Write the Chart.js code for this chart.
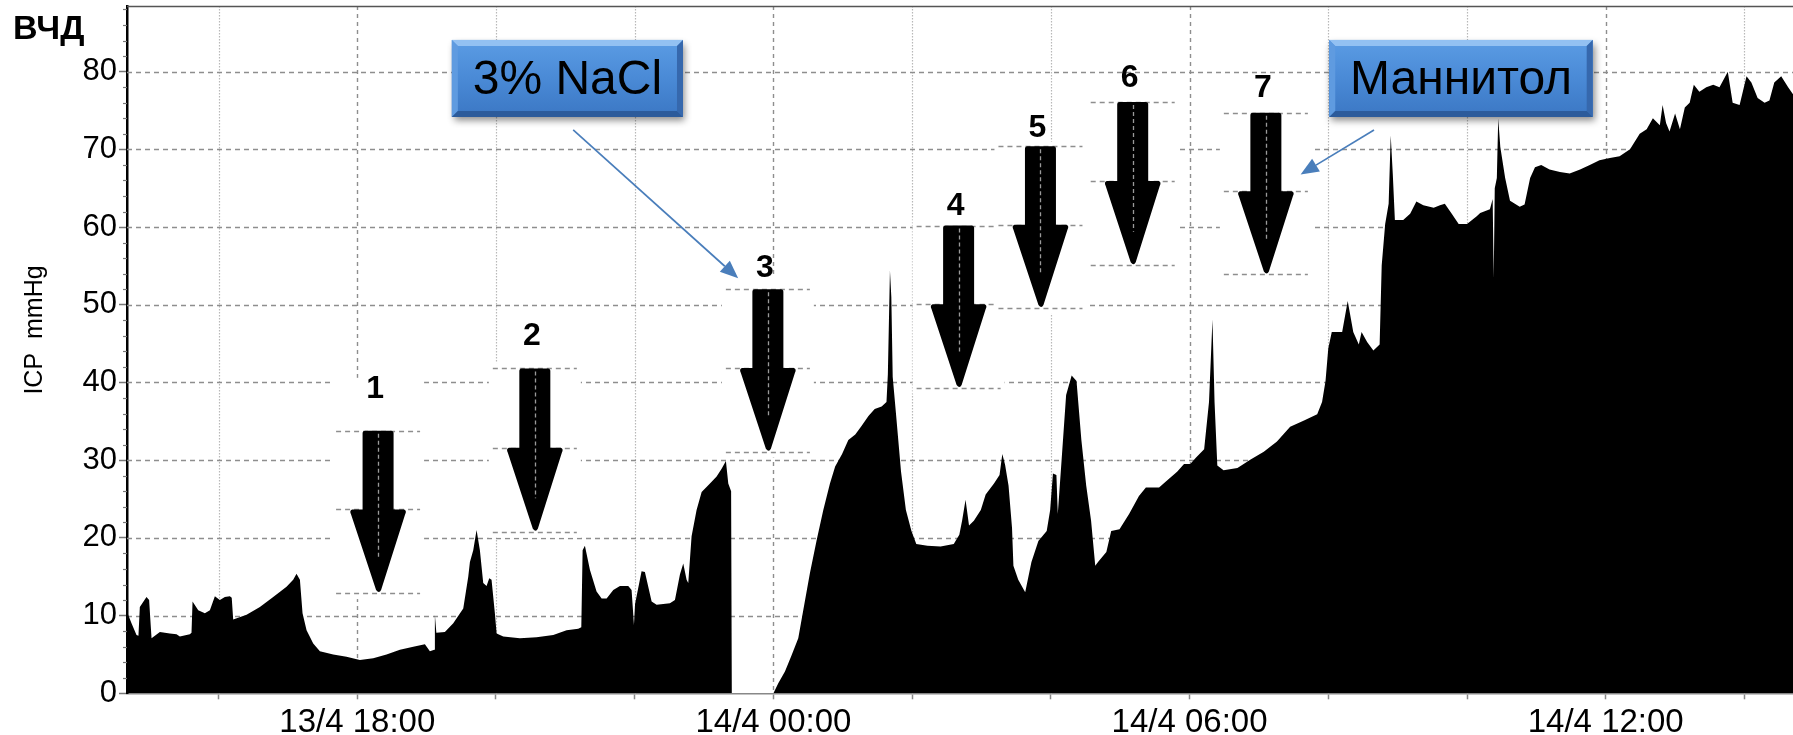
<!DOCTYPE html>
<html>
<head>
<meta charset="utf-8">
<script src="https://cdn.jsdelivr.net/npm/chart.js@4.4.1/dist/chart.umd.min.js"></script>
<style>
html,body{margin:0;padding:0;background:#fff;overflow:hidden}
canvas{display:block}
</style>
</head>
<body>
<canvas id="c" width="1793" height="735"></canvas>
<script>
// ---- data (hours since 13/4 00:00, ICP mmHg) ----
const icpHours = [
 14.68,14.745,14.817,14.845,14.865,14.961,14.999,15.02,15.034,15.154,15.298,15.394,15.442,15.586,15.61,15.625,
 15.707,15.803,15.875,15.947,16.019,16.091,16.163,16.19,16.211,16.404,16.596,16.788,16.98,17.076,17.124,17.173,
 17.211,17.269,17.365,17.461,17.653,17.845,18.038,18.23,18.422,18.615,18.807,18.975,19.047,19.11,19.119,19.14,
 19.263,19.384,19.528,19.6,19.624,19.672,19.72,19.768,19.816,19.864,19.903,19.936,19.984,20.009,20.105,20.345,
 20.585,20.826,21.018,21.186,21.23,21.249,21.282,21.354,21.45,21.523,21.595,21.691,21.787,21.907,21.955,21.975,
 21.989,22.005,22.027,22.099,22.147,22.244,22.316,22.508,22.58,22.652,22.7,22.748,22.772,22.82,22.892,22.965,
 23.085,23.181,23.253,23.315,23.349,23.39,23.4,24.0,24.07,24.166,24.262,24.358,24.43,24.527,24.623,24.719,
 24.815,24.89,24.99,25.08,25.18,25.27,25.37,25.46,25.56,25.63,25.65,25.68,25.7,25.72,25.77,25.84,
 25.91,25.99,26.06,26.22,26.41,26.6,26.68,26.72,26.77,26.82,26.89,26.99,27.06,27.18,27.26,27.3,
 27.34,27.39,27.44,27.46,27.53,27.63,27.72,27.82,27.94,27.99,28.03,28.08,28.1,28.15,28.22,28.3,
 28.37,28.44,28.51,28.58,28.64,28.68,28.8,28.87,28.99,29.13,29.27,29.37,29.56,29.65,29.82,29.92,
 30.01,30.09,30.21,30.28,30.33,30.36,30.4,30.49,30.69,30.88,31.07,31.26,31.45,31.65,31.84,31.91,
 31.96,32.0,32.05,32.12,32.2,32.28,32.36,32.44,32.48,32.56,32.65,32.74,32.77,32.82,32.87,32.9,
 32.93,32.96,33.08,33.18,33.27,33.37,33.52,33.61,33.68,33.78,33.88,34.0,34.14,34.19,34.33,34.37,
 34.385,34.4,34.43,34.45,34.48,34.55,34.62,34.76,34.83,34.91,34.98,35.07,35.19,35.34,35.48,35.63,
 35.77,35.91,36.06,36.2,36.35,36.49,36.59,36.68,36.78,36.82,36.87,36.92,37.0,37.07,37.14,37.21,
 37.27,37.35,37.45,37.55,37.64,37.76,37.83,37.93,38.03,38.1,38.19,38.29,38.36,38.43,38.53,38.63,
 38.7
];
const icpValues = [
 10.5,9.0,7.5,7.4,11.1,12.4,12.0,9.0,7.1,7.9,7.7,7.6,7.3,7.6,7.8,11.8,
 10.7,10.3,10.7,12.5,12.0,12.4,12.5,12.3,9.5,10.1,11.1,12.4,13.7,14.6,15.4,14.6,
 10.3,8.1,6.4,5.4,5.0,4.7,4.3,4.5,5.0,5.6,6.0,6.3,5.4,5.6,10.1,7.8,
 7.9,9.0,10.9,15.0,16.9,18.4,21.0,18.4,14.2,13.8,14.8,14.6,10.3,7.7,7.3,7.1,
 7.2,7.5,8.1,8.3,8.5,18.4,19.0,15.9,13.1,12.2,12.2,13.3,13.8,13.8,13.3,10.7,
 8.8,11.5,12.5,15.7,15.6,11.8,11.4,11.6,12.0,15.3,16.7,14.6,14.2,20.2,23.6,25.9,
 27.0,27.9,28.9,29.9,27.0,26.0,0,0,1.3,2.8,4.9,7.1,10.7,15.5,19.7,23.6,
 27.0,29.2,30.8,32.6,33.3,34.4,35.7,36.6,36.9,37.5,41.1,54.4,51.0,40.7,35.7,28.5,
 23.6,20.9,19.2,19.0,18.9,19.2,20.4,22.2,24.9,21.6,22.2,23.6,25.6,27.0,28.1,30.8,
 29.4,26.7,21.3,16.4,14.6,13.0,16.9,19.6,20.9,23.6,28.3,28.1,23.1,29.4,38.4,40.9,
 40.2,32.6,26.7,22.2,16.4,16.9,18.2,20.9,21.1,23.1,25.4,26.5,26.5,27.2,28.5,29.5,
 29.5,30.3,31.4,37.5,48.1,37.5,29.3,28.7,29.0,30.1,31.1,32.4,34.3,35.1,35.9,37.5,
 40.2,44.4,46.5,46.5,46.5,50.5,46.5,44.9,46.5,45.2,44.1,44.9,55.1,60.4,63.0,71.8,
 66.8,60.9,60.9,61.7,63.3,62.8,62.5,62.8,63.0,61.7,60.4,60.4,61.4,61.8,62.3,63.6,
 53.4,65.0,66.3,74.0,70.3,66.3,63.4,62.6,62.9,66.3,67.7,68.0,67.4,67.1,66.9,67.4,
 68.0,68.6,68.9,69.1,70.0,72.0,72.6,74.0,73.1,75.7,73.4,72.3,74.6,72.6,75.4,76.0,
 78.3,77.4,78.0,78.3,78.0,80.0,76.0,75.7,79.4,78.6,76.6,76.0,76.3,78.6,79.4,78.0,
 77.1
];
const xTickHours = [18, 24, 30, 36];
const xTickLabels = ['13/4 18:00', '14/4 00:00', '14/4 06:00', '14/4 12:00'];
const yTickValues = [0, 10, 20, 30, 40, 50, 60, 70, 80];

// numbered intervention arrows (anchored to data coordinates)
const arrowLabels = ['1', '2', '3', '4', '5', '6', '7'];
const arrowHours = [18.30, 20.56, 23.92, 26.67, 27.85, 29.18, 31.10];
const arrowTops = [33.8, 41.8, 52.0, 60.2, 70.4, 76.1, 74.7];
const arrowTips = [12.9, 20.8, 31.1, 39.3, 49.6, 55.1, 53.9];
const arrowLabelLevels = [39.2, 46.0, 54.7, 62.7, 72.7, 79.1, 77.9];
const arrowBoxTops = [40.6, 42.5, 53.5, 61.2, 71.0, 77.0, 75.6];

// callouts
const calloutTexts = ['3% NaCl', 'Маннитол'];
const calloutHours = [[19.364, 22.696], [32.014, 35.812]];
const calloutLevels = [[84.08, 74.17], [84.08, 74.17]];
const calloutFrom = [[21.113, 72.5], [32.659, 72.5]];
const calloutTo = [[23.492, 53.41], [31.601, 66.77]];

const FONT = '"Liberation Sans", Arial, sans-serif';
const near = (a, b) => Math.abs(a - b) < 1e-6;

function drawArrow(ctx, cx, yTop, yBase, yTip) {
  const sw = 15.5, hw = 28, r = 2.5;
  ctx.beginPath();
  ctx.moveTo(cx - sw, yTop + r);
  ctx.quadraticCurveTo(cx - sw, yTop, cx - sw + r, yTop);
  ctx.lineTo(cx + sw - r, yTop);
  ctx.quadraticCurveTo(cx + sw, yTop, cx + sw, yTop + r);
  ctx.lineTo(cx + sw, yBase);
  ctx.lineTo(cx + hw - 2, yBase);
  ctx.quadraticCurveTo(cx + hw + 1, yBase + 1, cx + hw - 1, yBase + 5);
  ctx.lineTo(cx + 3, yTip - 3);
  ctx.quadraticCurveTo(cx + 1, yTip + 1, cx - 2, yTip - 3);
  ctx.lineTo(cx - hw + 1, yBase + 5);
  ctx.quadraticCurveTo(cx - hw - 1, yBase + 1, cx - hw + 2, yBase);
  ctx.lineTo(cx - sw, yBase);
  ctx.closePath();
  ctx.fillStyle = '#000';
  ctx.fill();
}

function drawCallout(ctx, x0, y0, x1, y1, text) {
  const w = x1 - x0, h = y1 - y0, b = 6;
  ctx.save();
  ctx.shadowColor = 'rgba(0,0,0,0.45)';
  ctx.shadowBlur = 7; ctx.shadowOffsetX = 2; ctx.shadowOffsetY = 4;
  ctx.fillStyle = '#3f7cc8';
  ctx.fillRect(x0, y0, w, h);
  ctx.restore();
  const g = ctx.createLinearGradient(0, y0, 0, y1);
  g.addColorStop(0, '#5b9ce4'); g.addColorStop(0.5, '#4a8ad6'); g.addColorStop(1, '#3b77c4');
  ctx.fillStyle = g; ctx.fillRect(x0, y0, w, h);
  const poly = (pts, col) => { ctx.beginPath(); ctx.moveTo(pts[0][0], pts[0][1]); for (let i = 1; i < pts.length; i++) ctx.lineTo(pts[i][0], pts[i][1]); ctx.closePath(); ctx.fillStyle = col; ctx.fill(); };
  poly([[x0, y0], [x1, y0], [x1 - b, y0 + b], [x0 + b, y0 + b]], '#93c1f2');
  poly([[x0, y0], [x0 + b, y0 + b], [x0 + b, y1 - b], [x0, y1]], '#5f9be0');
  poly([[x1, y0], [x1, y1], [x1 - b, y1 - b], [x1 - b, y0 + b]], '#3668ad');
  poly([[x0, y1], [x0 + b, y1 - b], [x1 - b, y1 - b], [x1, y1]], '#2c5b9b');
  ctx.fillStyle = '#000';
  ctx.font = '48px ' + FONT;
  ctx.textAlign = 'center'; ctx.textBaseline = 'middle';
  ctx.fillText(text, (x0 + x1) / 2, (y0 + y1) / 2 + 2);
}

function drawConnector(ctx, xa, ya, xb, yb) {
  const ang = Math.atan2(yb - ya, xb - xa), L = 18, W = 7.5;
  const bx = xb - L * Math.cos(ang), by = yb - L * Math.sin(ang);
  ctx.strokeStyle = '#4a7ebb'; ctx.lineWidth = 1.7; ctx.setLineDash([]);
  ctx.beginPath(); ctx.moveTo(xa, ya); ctx.lineTo(bx, by); ctx.stroke();
  ctx.beginPath();
  ctx.moveTo(xb, yb);
  ctx.lineTo(bx + W * Math.sin(ang), by - W * Math.cos(ang));
  ctx.lineTo(bx - W * Math.sin(ang), by + W * Math.cos(ang));
  ctx.closePath(); ctx.fillStyle = '#4a7ebb'; ctx.fill();
}

const decor = {
  id: 'decor',
  beforeDatasetsDraw(chart) {
    const { ctx, chartArea: a, scales: { x, y } } = chart;
    ctx.save();
    x.ticks.forEach(t => {
      const px = Math.round(x.getPixelForValue(t.value)) + 0.5;
      const major = xTickHours.some(v => near(v, t.value));
      ctx.beginPath();
      ctx.lineWidth = major ? 1.4 : 1.2;
      ctx.strokeStyle = major ? '#8e8e8e' : '#b8b8b8';
      ctx.setLineDash(major ? [4, 4] : [1.5, 1.5]);
      ctx.moveTo(px, a.top); ctx.lineTo(px, a.bottom); ctx.stroke();
    });
    y.ticks.forEach(t => {
      if (near(t.value, 0) || !yTickValues.some(v => near(v, t.value))) return;
      const py = Math.round(y.getPixelForValue(t.value)) + 0.5;
      ctx.beginPath(); ctx.lineWidth = 1.5; ctx.strokeStyle = '#8e8e8e';
      ctx.setLineDash([5, 4]);
      ctx.moveTo(a.left, py); ctx.lineTo(a.right, py); ctx.stroke();
    });
    ctx.setLineDash([]);
    y.ticks.forEach(t => {
      if (yTickValues.some(v => near(v, t.value))) return;
      const py = Math.round(y.getPixelForValue(t.value)) + 0.5;
      ctx.beginPath(); ctx.lineWidth = 1.2; ctx.strokeStyle = '#777';
      ctx.moveTo(a.left - 4, py); ctx.lineTo(a.left, py); ctx.stroke();
    });
    ctx.beginPath(); ctx.lineWidth = 1.5; ctx.strokeStyle = '#555';
    ctx.moveTo(a.left, a.top + 0.5); ctx.lineTo(a.right, a.top + 0.5); ctx.stroke();
    arrowHours.forEach((hr, i) => {
      const cx = x.getPixelForValue(hr);
      const top = y.getPixelForValue(arrowBoxTops[i]);
      const bot = y.getPixelForValue(arrowTips[i]) + 6;
      ctx.fillStyle = '#fff';
      ctx.fillRect(cx - 46, top, 92, bot - top);
      const base = arrowTops[i] - 0.485 * (arrowTops[i] - arrowTips[i]);
      ctx.setLineDash([5, 4]); ctx.lineWidth = 1.5; ctx.strokeStyle = '#8e8e8e';
      [arrowTops[i], base, arrowTips[i]].forEach(v => {
        const py = Math.round(y.getPixelForValue(v)) + 0.5;
        ctx.beginPath(); ctx.moveTo(cx - 42, py); ctx.lineTo(cx + 42, py); ctx.stroke();
      });
    });
    ctx.restore();
  },
  afterDatasetsDraw(chart) {
    const { ctx, scales: { x, y } } = chart;
    ctx.save();
    arrowHours.forEach((hr, i) => {
      const cx = x.getPixelForValue(hr);
      const yTop = y.getPixelForValue(arrowTops[i]);
      const yTip = y.getPixelForValue(arrowTips[i]);
      const base = arrowTops[i] - 0.485 * (arrowTops[i] - arrowTips[i]);
      const yBase = y.getPixelForValue(base);
      drawArrow(ctx, cx, yTop, yBase, yTip);
      ctx.beginPath(); ctx.setLineDash([4, 3]); ctx.lineWidth = 1.3; ctx.strokeStyle = '#9a9a9a';
      ctx.moveTo(Math.round(cx) + 0.5, yTop + 3);
      ctx.lineTo(Math.round(cx) + 0.5, y.getPixelForValue(arrowTips[i] + 4.3));
      ctx.stroke(); ctx.setLineDash([]);
      ctx.fillStyle = '#000';
      ctx.font = 'bold 32px ' + FONT;
      ctx.textAlign = 'center'; ctx.textBaseline = 'middle';
      ctx.fillText(arrowLabels[i], cx - 3, y.getPixelForValue(arrowLabelLevels[i]));
    });
    calloutTexts.forEach((t, i) => {
      drawConnector(ctx, x.getPixelForValue(calloutFrom[i][0]), y.getPixelForValue(calloutFrom[i][1]),
        x.getPixelForValue(calloutTo[i][0]), y.getPixelForValue(calloutTo[i][1]));
      drawCallout(ctx, x.getPixelForValue(calloutHours[i][0]), y.getPixelForValue(calloutLevels[i][0]),
        x.getPixelForValue(calloutHours[i][1]), y.getPixelForValue(calloutLevels[i][1]), t);
    });
    ctx.fillStyle = '#000';
    ctx.font = 'bold 34px ' + FONT;
    ctx.textAlign = 'left'; ctx.textBaseline = 'alphabetic';
    ctx.fillText('ВЧД', 13, 39);
    ctx.save();
    ctx.translate(35, 330); ctx.rotate(-Math.PI / 2);
    ctx.font = '25px ' + FONT; ctx.textAlign = 'center'; ctx.textBaseline = 'middle';
    ctx.fillText('ICP  mmHg', 0, 0);
    ctx.restore();
    ctx.restore();
  }
};

new Chart(document.getElementById('c'), {
  type: 'line',
  data: {
    datasets: [{
      data: icpHours.map((h, i) => ({ x: h, y: icpValues[i] })),
      fill: 'origin',
      backgroundColor: '#000',
      borderColor: 'rgba(0,0,0,0)',
      borderWidth: 1,
      pointRadius: 0,
      tension: 0
    }]
  },
  options: {
    responsive: false,
    animation: false,
    devicePixelRatio: 1,
    layout: { padding: { left: 0, right: 0, top: 6, bottom: 0 } },
    plugins: { legend: { display: false }, tooltip: { enabled: false }, title: { display: false } },
    scales: {
      x: {
        type: 'linear', position: 'bottom', min: 14.68, max: 38.7,
        ticks: {
          stepSize: 2, includeBounds: false, autoSkip: false, maxRotation: 0, minRotation: 0,
          padding: 4, color: '#000', font: { family: FONT, size: 33 },
          callback(v) { const i = xTickHours.findIndex(h => near(h, v)); return i >= 0 ? xTickLabels[i] : ''; }
        },
        grid: { drawOnChartArea: false, drawTicks: true, tickLength: 6, tickColor: '#888', tickWidth: 1.5 },
        border: { display: true, color: '#888', width: 1.5 },
        afterFit(s) { s.height = 41.7; s.paddingLeft = 0; s.paddingRight = 0; }
      },
      y: {
        min: 0, max: 88.45,
        ticks: {
          stepSize: 2, includeBounds: false, autoSkip: false, padding: 2, color: '#000',
          font: { family: FONT, size: 31 },
          callback(v) { return yTickValues.some(t => near(t, v)) ? String(v) : ''; }
        },
        grid: {
          drawOnChartArea: false, drawTicks: true, tickLength: 8, tickWidth: 1.5,
          tickColor: c => (c.tick && yTickValues.some(t => near(t, c.tick.value))) ? '#777' : 'rgba(0,0,0,0)'
        },
        border: { display: true, color: '#000', width: 2.5 },
        afterFit(s) { s.width = 127; s.paddingTop = 0; s.paddingBottom = 0; }
      }
    }
  },
  plugins: [decor]
});
</script>
</body>
</html>
